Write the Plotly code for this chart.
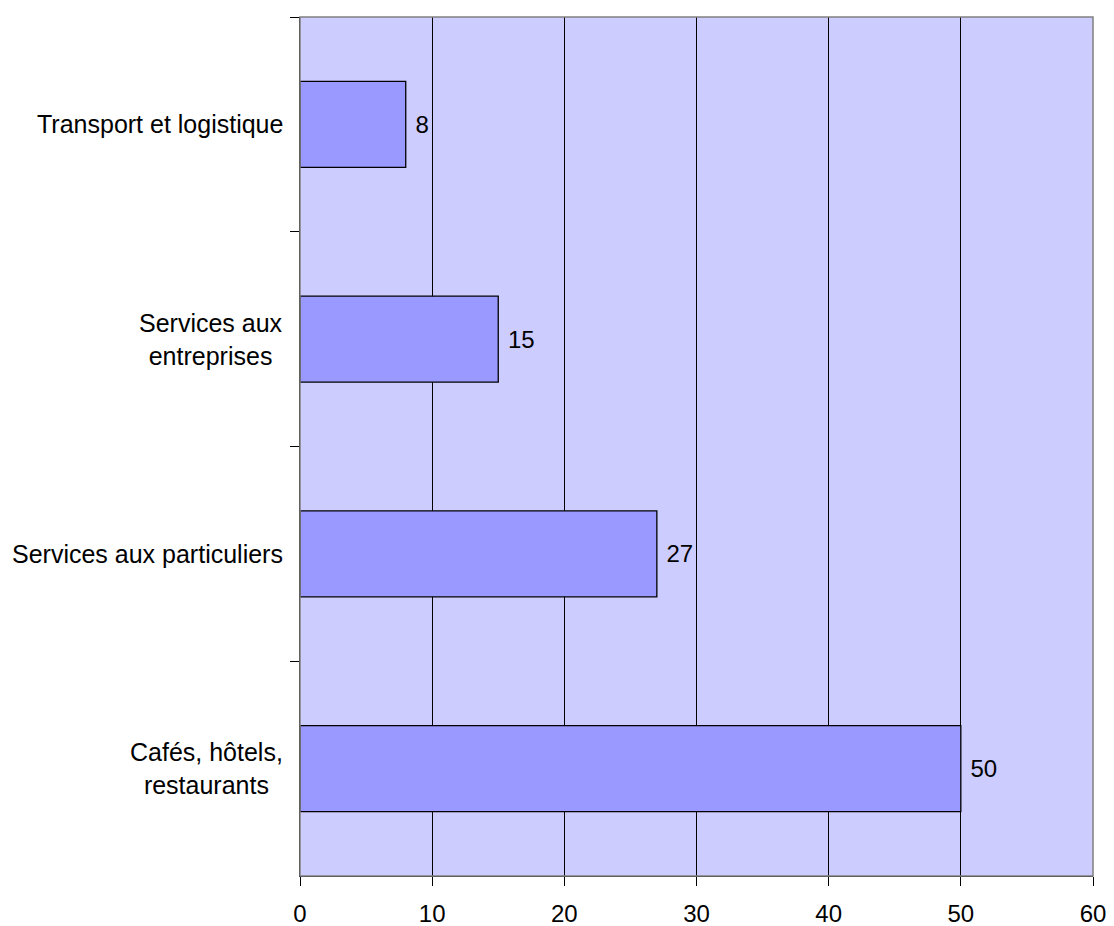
import plotly.graph_objects as go

categories = ["Transport et logistique", "Services aux<br>entreprises",
              "Services aux particuliers", "Cafés, hôtels,<br>restaurants"]
values = [8, 15, 27, 50]
x_ticks = [0, 10, 20, 30, 40, 50, 60]

FONT = "Liberation Sans, Arial, sans-serif"
FS = 24

fig = go.Figure()
fig.add_trace(go.Bar(
    y=categories, x=values, orientation="h",
    marker=dict(color="#9999FF", line=dict(color="#000000", width=1.3)),
    text=[" " + str(v) for v in values], textposition="outside",
    textfont=dict(family=FONT, size=FS, color="#000000"),
    cliponaxis=False, hoverinfo="skip",
))

for c in categories:
    fig.add_annotation(x=0, xref="paper", y=c, yref="y", text=c,
                       xanchor="right", yanchor="middle", align="center",
                       xshift=-15, showarrow=False,
                       font=dict(family=FONT, size=25, color="#000000"))

fig.add_shape(type="rect", xref="paper", yref="paper", x0=0, x1=1, y0=0, y1=1,
              line=dict(color="#808080", width=1.5), layer="above")

# the page places the figure 8px from the top-left corner
fig.update_layout(
    width=1106, height=918,
    margin=dict(l=292, r=21, t=9, b=50),
    paper_bgcolor="#FFFFFF", plot_bgcolor="#CCCCFF",
    bargap=0.6, showlegend=False,
    font=dict(family=FONT, size=FS, color="#000000"),
)
fig.update_xaxes(
    range=[0, 60], tickvals=x_ticks, ticktext=[str(t) for t in x_ticks],
    showgrid=True, gridcolor="#000000", gridwidth=1,
    showline=True, linecolor="#000000", linewidth=1,
    ticks="outside", ticklen=9, tickcolor="#000000",
    ticklabelstandoff=7, zeroline=False, automargin=False,
    tickfont=dict(family=FONT, size=FS, color="#000000"),
)
fig.update_yaxes(
    categoryorder="array", categoryarray=categories, autorange="reversed",
    showticklabels=False, tickson="boundaries", ticks="outside", ticklen=9,
    tickcolor="#000000", showgrid=False, showline=True, linecolor="#000000",
    linewidth=1, zeroline=False, automargin=False,
)

fig.write_html("out.html")
